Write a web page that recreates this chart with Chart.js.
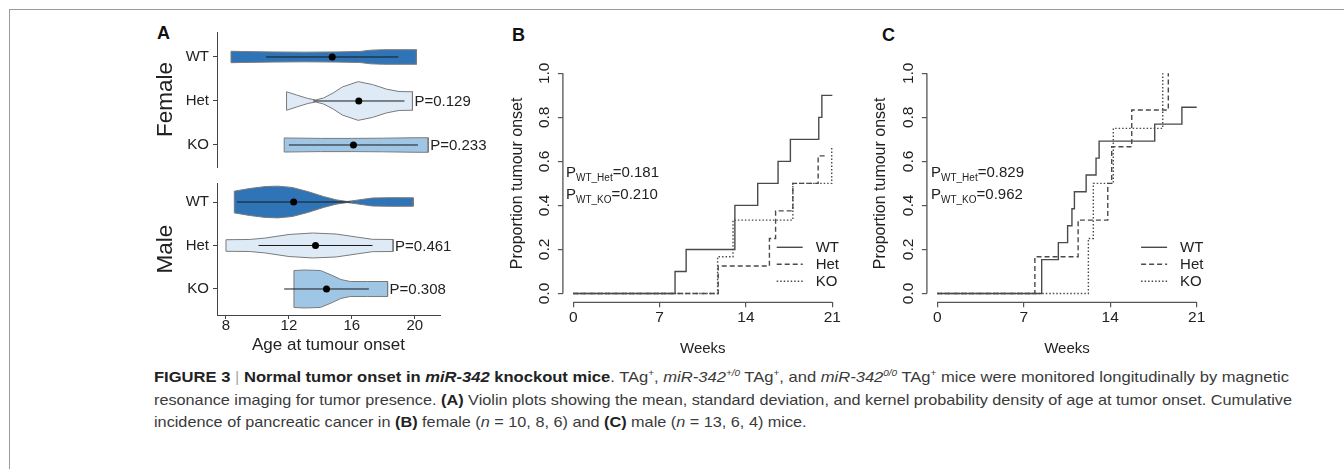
<!DOCTYPE html>
<html><head><meta charset="utf-8">
<script src="https://cdn.jsdelivr.net/npm/chart.js@4.4.1/dist/chart.umd.min.js"></script>
<style>
html,body{margin:0;padding:0;background:#fff;width:1344px;height:469px;overflow:hidden;font-family:"Liberation Sans",Arial,sans-serif;}
canvas{position:absolute;}
.frame{position:absolute;left:9px;top:9px;width:1400px;height:500px;border-left:1px solid #9a9a9a;border-top:1px solid #9a9a9a;}
.lab{position:absolute;font-weight:bold;font-size:18px;color:#111;line-height:1;}
.pv{position:absolute;font-size:15px;color:#222;line-height:15px;white-space:nowrap;}
.pv sub{font-size:10px;line-height:0;vertical-align:baseline;position:relative;top:4px;}
.cap{position:absolute;left:154px;font-size:15px;color:#3a3a3a;white-space:nowrap;transform-origin:0 0;line-height:1;}
.cap b{color:#222;}
.cap sup{font-size:9px;line-height:0;vertical-align:baseline;position:relative;top:-6px;}
.bar{color:#aaa;font-weight:normal;}
</style></head>
<body>
<div class="frame"></div>
<div class="lab" style="left:157px;top:24px">A</div>
<div class="lab" style="left:512px;top:26px">B</div>
<div class="lab" style="left:882px;top:26px">C</div>

<canvas id="aFem" width="360" height="155" style="left:140px;top:20px"></canvas>
<canvas id="aMal" width="360" height="185" style="left:140px;top:175px"></canvas>
<canvas id="cB" width="362" height="318" style="left:508px;top:40px"></canvas>
<canvas id="cC" width="364" height="318" style="left:871px;top:40px"></canvas>

<div class="pv" style="left:566px;top:164px">P<sub>WT_Het</sub>=0.181</div>
<div class="pv" style="left:566px;top:186px">P<sub>WT_KO</sub>=0.210</div>
<div class="pv" style="left:931px;top:164px">P<sub>WT_Het</sub>=0.829</div>
<div class="pv" style="left:931px;top:186px">P<sub>WT_KO</sub>=0.962</div>

<div class="cap" id="cap1" style="top:369px"><b>FIGURE 3</b> <span class="bar">|</span> <b>Normal tumor onset in <i>miR-342</i> knockout mice</b>. TAg<sup>+</sup>, <i>miR-342<sup>+/0</sup></i> TAg<sup>+</sup>, and <i>miR-342<sup>0/0</sup></i> TAg<sup>+</sup> mice were monitored longitudinally by magnetic</div>
<div class="cap" id="cap2" style="top:392px">resonance imaging for tumor presence. <b>(A)</b> Violin plots showing the mean, standard deviation, and kernel probability density of age at tumor onset. Cumulative</div>
<div class="cap" id="cap3" style="top:414px">incidence of pancreatic cancer in <b>(B)</b> female (<i>n</i> = 10, 8, 6) and <b>(C)</b> male (<i>n</i> = 13, 6, 4) mice.</div>

<script>
// ---------------- DATA ----------------
const groups = ['WT', 'Het', 'KO'];
const rowPos = [1, 2, 3];
const ageTicks = [8, 12, 16, 20];
const weekTicks = [0, 7, 14, 21];
const propTicks = [0, 0.2, 0.4, 0.6, 0.8, 1.0];

// Panel A – female violins (age, half-width in row units)
const femWT_age  = [8.32, 9, 11, 13, 15, 16.5, 17.2, 18, 20.1];
const femWT_half = [0.13, 0.125, 0.115, 0.11, 0.115, 0.125, 0.155, 0.165, 0.165];
const femHet_age  = [11.85, 12.5, 13.2, 13.7, 14.2, 14.8, 15.4, 16.4, 17.3, 18.2, 19.0, 19.85];
const femHet_half = [0.21, 0.135, 0.057, 0.023, 0.068, 0.18, 0.32, 0.44, 0.375, 0.27, 0.215, 0.21];
const femKO_age  = [11.7, 14, 16, 18, 20, 20.85];
const femKO_half = [0.16, 0.15, 0.15, 0.155, 0.165, 0.165];
const femMean = [14.75, 16.44, 16.1];
const femSD   = [4.2, 2.9, 4.1];
const femP    = ['', 'P=0.129', 'P=0.233'];

// Panel A – male violins
const malWT_age  = [8.53, 9.5, 10.5, 11.3, 12.2, 13.2, 14.2, 15.0, 15.7, 16.4, 17.3, 18.5, 19.9];
const malWT_half = [0.25, 0.31, 0.355, 0.365, 0.335, 0.24, 0.125, 0.05, 0.012, 0.046, 0.092, 0.1, 0.097];
const malHet_age  = [8.0, 9.5, 10.5, 12, 13.5, 15, 16.3, 17.3, 18.62];
const malHet_half = [0.133, 0.138, 0.172, 0.253, 0.287, 0.264, 0.195, 0.142, 0.138];
const malKO_age  = [12.32, 13, 14, 14.7, 15.3, 15.9, 17, 18.27];
const malKO_half = [0.425, 0.437, 0.425, 0.32, 0.218, 0.172, 0.172, 0.172];
const malMean = [12.3, 13.69, 14.39];
const malSD   = [3.6, 3.62, 2.69];
const malP    = ['', 'P=0.461', 'P=0.308'];

// Panel B – female cumulative incidence
const femWT_t  = [0, 8.25, 9.15, 13.1, 14.95, 16.6, 17.6, 19.9, 20.15, 21];
const femWT_p  = [0, 0.1, 0.2, 0.4, 0.5, 0.6, 0.7, 0.8, 0.9, 0.9];
const femHet_t = [0, 11.75, 15.9, 16.4, 17.8, 19.85, 20.4];
const femHet_p = [0, 0.125, 0.25, 0.375, 0.5, 0.625, 0.625];
const femKO_t  = [0, 11.7, 12.95, 17.8, 20.95];
const femKO_p  = [0, 0.1667, 0.3333, 0.5, 0.6667];

// Panel C – male cumulative incidence
const malWT_t  = [0, 8.45, 9.8, 10.55, 10.9, 11.1, 12.05, 12.85, 13.1, 17.6, 19.8, 21];
const malWT_p  = [0, 0.154, 0.231, 0.308, 0.385, 0.462, 0.538, 0.615, 0.692, 0.769, 0.846, 0.846];
const malHet_t = [0, 7.9, 11.4, 13.8, 14.12, 15.74, 18.7];
const malHet_p = [0, 0.1667, 0.3333, 0.5, 0.6667, 0.8333, 1.0];
const malKO_t  = [0, 12.23, 12.63, 14.25, 18.25];
const malKO_p  = [0, 0.25, 0.5, 0.75, 1.0];

// ---------------- STYLE ----------------
const FONT = '"Liberation Sans", Arial, sans-serif';
const violinFill = ['#2f74b6', '#deebf7', '#a0c6e6'];
const violinEdge = '#7a7a7a';
const axisCol = '#444';

// ---------------- PANEL A ----------------
const pLabelPlugin = {
  id: 'pLabels',
  afterDatasetsDraw(chart, args, opts) {
    const {ctx} = chart;
    const xs = chart.scales.x, ys = chart.scales.y;
    ctx.save();
    ctx.font = '15px ' + FONT;
    ctx.fillStyle = '#222';
    ctx.textBaseline = 'middle';
    ctx.textAlign = 'left';
    opts.labels.forEach((t, i) => {
      if (!t) return;
      const ages = opts.ends[i];
      ctx.fillText(t, xs.getPixelForValue(ages[ages.length - 1]) + 2, ys.getPixelForValue(rowPos[i]) + 1);
    });
    ctx.restore();
  }
};

function fixAxis(w, h) {
  return function (ax) {
    if (w !== undefined) ax.width = w;
    if (h !== undefined) ax.height = h;
    ax.paddingTop = 0; ax.paddingBottom = 0; ax.paddingLeft = 0; ax.paddingRight = 0;
  };
}

function violinChart(id, ages, halves, mean, sd, pl, title, yMin, yMax, showX, pad, yW, xH) {
  const datasets = [];
  ages.forEach((age, i) => {
    const r = rowPos[i], half = halves[i];
    const pts = [];
    age.forEach((a, k) => pts.push({x: a, y: r - half[k]}));
    for (let k = age.length - 1; k >= 0; k--) pts.push({x: age[k], y: r + half[k]});
    pts.push({x: age[0], y: r - half[0]});
    datasets.push({label: groups[i], data: pts, fill: 'shape', backgroundColor: violinFill[i],
      borderColor: violinEdge, borderWidth: 1, pointRadius: 0, tension: 0, order: 3});
  });
  mean.forEach((m, i) => {
    datasets.push({data: [{x: m - sd[i], y: rowPos[i]}, {x: m + sd[i], y: rowPos[i]}],
      borderColor: '#1a1a1a', borderWidth: 1, pointRadius: 0, fill: false, order: 2});
  });
  datasets.push({data: mean.map((m, i) => ({x: m, y: rowPos[i]})), showLine: false,
    pointRadius: 3.5, pointBackgroundColor: '#000', pointBorderColor: '#000', pointBorderWidth: 0, order: 1});

  return new Chart(document.getElementById(id), {
    type: 'line',
    data: {datasets},
    plugins: [pLabelPlugin],
    options: {
      responsive: false, animation: false, events: [],
      layout: {padding: pad},
      plugins: {legend: {display: false}, tooltip: {enabled: false}, pLabels: {labels: pl, ends: ages}},
      scales: {
        x: {
          type: 'linear', min: 7.43, max: 21.6, display: showX,
          afterBuildTicks: ax => { ax.ticks = ageTicks.map(v => ({value: v})); },
          afterFit: fixAxis(undefined, xH),
          ticks: {font: {family: FONT, size: 15}, color: '#222', padding: -2, maxRotation: 0},
          grid: {drawOnChartArea: false, tickLength: 4, color: axisCol},
          border: {display: true, color: axisCol, width: 1},
          title: {display: true, text: 'Age at tumour onset', font: {family: FONT, size: 17}, color: '#222', padding: {top: 0, bottom: 4}}
        },
        y: {
          type: 'linear', reverse: true, min: yMin, max: yMax,
          afterBuildTicks: ax => { ax.ticks = rowPos.map(v => ({value: v})); },
          afterFit: fixAxis(yW, undefined),
          ticks: {font: {family: FONT, size: 15}, color: '#222', padding: 4, callback: v => groups[rowPos.indexOf(v)]},
          grid: {drawOnChartArea: false, tickLength: 4, color: axisCol},
          border: {display: true, color: axisCol, width: 1},
          title: {display: true, text: title, font: {family: FONT, size: 22.5}, color: '#222', padding: {top: 12, bottom: 0}}
        }
      }
    }
  });
}

violinChart('aFem', [femWT_age, femHet_age, femKO_age], [femWT_half, femHet_half, femKO_half],
  femMean, femSD, femP, 'Female', 0.432, 3.5, false, {left: 0, top: 12, right: 60, bottom: 8}, 77, undefined);
violinChart('aMal', [malWT_age, malHet_age, malKO_age], [malWT_half, malHet_half, malKO_half],
  malMean, malSD, malP, 'Male', 0.563, 3.598, true, {left: 0, top: 8, right: 60, bottom: 0}, 77, 45);

// ---------------- PANELS B & C ----------------
const rAxesPlugin = {
  id: 'rAxes',
  afterDraw(chart) {
    const {ctx, chartArea} = chart;
    const xs = chart.scales.x, ys = chart.scales.y;
    ctx.save();
    ctx.strokeStyle = '#555';
    ctx.lineWidth = 1.3;
    ctx.beginPath();
    ctx.moveTo(xs.getPixelForValue(weekTicks[0]), chartArea.bottom);
    ctx.lineTo(xs.getPixelForValue(weekTicks[weekTicks.length - 1]), chartArea.bottom);
    ctx.moveTo(chartArea.left, ys.getPixelForValue(propTicks[0]));
    ctx.lineTo(chartArea.left, ys.getPixelForValue(propTicks[propTicks.length - 1]));
    ctx.stroke();
    ctx.restore();
  }
};

const kmLegendPlugin = {
  id: 'kmLegend',
  afterDraw(chart) {
    const {ctx, chartArea} = chart;
    ctx.save();
    ctx.font = '15px ' + FONT;
    ctx.textBaseline = 'middle';
    ctx.fillStyle = '#222';
    chart.data.datasets.forEach((ds, i) => {
      const y = chartArea.bottom - 55 + i * 17;
      ctx.strokeStyle = ds.borderColor;
      ctx.lineWidth = ds.borderWidth;
      ctx.setLineDash(ds.borderDash || []);
      ctx.beginPath();
      ctx.moveTo(chartArea.right - 66, y);
      ctx.lineTo(chartArea.right - 40, y);
      ctx.stroke();
      ctx.setLineDash([]);
      ctx.fillText(ds.label, chartArea.right - 27, y + 1);
    });
    ctx.restore();
  }
};

function kmChart(id, ts, ps, yW, padRight) {
  const dashes = [[], [5, 3], [1.5, 2]];
  const datasets = ts.map((t, i) => ({
    label: groups[i],
    data: t.map((x, k) => ({x, y: ps[i][k]})),
    stepped: true, fill: false, pointRadius: 0,
    borderColor: '#4a4a4a', borderWidth: 1.4, borderDash: dashes[i], order: i
  }));
  return new Chart(document.getElementById(id), {
    type: 'line',
    data: {datasets},
    plugins: [rAxesPlugin, kmLegendPlugin],
    options: {
      responsive: false, animation: false, events: [],
      layout: {padding: {left: 0, top: 24.5, right: padRight, bottom: 0}},
      plugins: {legend: {display: false}, tooltip: {enabled: false}},
      scales: {
        x: {
          type: 'linear', min: -0.84, max: 21.84,
          afterBuildTicks: ax => { ax.ticks = weekTicks.map(v => ({value: v})); },
          afterFit: fixAxis(undefined, 55.7),
          ticks: {font: {family: FONT, size: 15.5}, color: '#222', padding: 1, maxRotation: 0},
          grid: {drawOnChartArea: false, tickLength: 5, color: '#555', lineWidth: 1.2},
          border: {display: false},
          title: {display: true, text: 'Weeks', font: {family: FONT, size: 15}, color: '#222', padding: 0}
        },
        y: {
          type: 'linear', min: -0.04, max: 1.04,
          afterBuildTicks: ax => { ax.ticks = propTicks.map(v => ({value: v})); },
          afterFit: fixAxis(yW, undefined),
          ticks: {font: {family: FONT, size: 15.5}, color: '#222', padding: 2.5, minRotation: 90, maxRotation: 90,
                  crossAlign: 'center', callback: v => v.toFixed(1)},
          grid: {drawOnChartArea: false, tickLength: 5, color: '#555', lineWidth: 1.2},
          border: {display: false},
          title: {display: true, text: 'Proportion tumour onset', font: {family: FONT, size: 16}, color: '#222', padding: 0}
        }
      }
    }
  });
}

kmChart('cB', [femWT_t, femHet_t, femKO_t], [femWT_p, femHet_p, femKO_p], 54.9, 27.3);
kmChart('cC', [malWT_t, malHet_t, malKO_t], [malWT_p, malHet_p, malKO_p], 55.9, 27.9);

// ---------------- caption width fitting ----------------
(function () {
  const targets = {cap1: 1135, cap2: 1138};
  let s2 = 1;
  ['cap1', 'cap2'].forEach(id => {
    const el = document.getElementById(id);
    const w = el.getBoundingClientRect().width;
    const s = targets[id] / w;
    if (id === 'cap2') s2 = s;
    el.style.transform = 'scaleX(' + s + ')';
  });
  document.getElementById('cap3').style.transform = 'scaleX(' + s2 + ')';
})();
</script>
</body></html>
